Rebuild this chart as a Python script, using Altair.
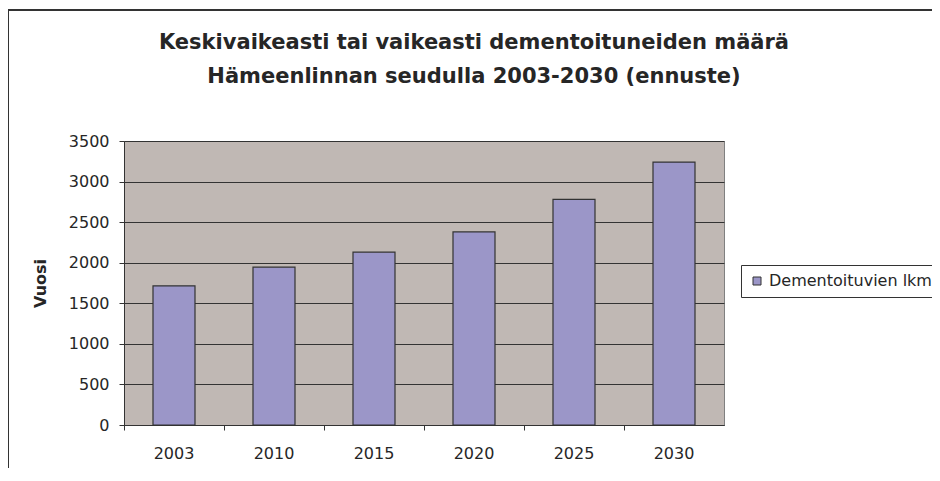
import altair as alt
import pandas as pd

years = ["2003", "2010", "2015", "2020", "2025", "2030"]
values = [1715, 1945, 2130, 2380, 2780, 3240]
series = ["Dementoituvien lkm"] * len(years)

df = pd.DataFrame({"Vuosi": years, "Arvo": values, "Sarja": series})

TXT = "#262626"
FONT = "DejaVu Sans"

bars = alt.Chart(df).mark_bar(size=42, stroke="#333333", strokeWidth=1.2).encode(
    x=alt.X("Vuosi:N", sort=years, title=None,
            scale=alt.Scale(paddingInner=0, paddingOuter=0),
            axis=alt.Axis(labelAngle=0, bandPosition=0, grid=False, tickSize=5,
                          tickColor="#333333", domainColor="#333333",
                          labelPadding=15, labelFontSize=16, labelColor=TXT,
                          labelFont=FONT, labelBound=False, labelOverlap=False)),
    y=alt.Y("Arvo:Q", title="Vuosi",
            scale=alt.Scale(domain=[0, 3500], nice=False),
            axis=alt.Axis(values=[0, 500, 1000, 1500, 2000, 2500, 3000, 3500],
                          format="d",
                          grid=True, gridColor="#333333", gridWidth=1,
                          tickSize=5, tickColor="#333333", domainColor="#333333",
                          labelPadding=10, labelFontSize=16, labelColor=TXT,
                          labelFont=FONT, titleFont=FONT, titleFontSize=16,
                          titleFontWeight="bold", titleColor=TXT,
                          titleAngle=-90, titleX=-84, titleY=142,
                          titleAlign="center", titleBaseline="middle")),
    fill=alt.Fill("Sarja:N", scale=alt.Scale(range=["#9B96C8"]),
                  legend=alt.Legend(title=None, orient="none", legendX=617, legendY=124,
                                    strokeColor="#333333", padding=8,
                                    symbolType="square", symbolSize=64,
                                    symbolStrokeColor="#333333", symbolStrokeWidth=1,
                                    labelFontSize=16, labelFont=FONT, labelColor=TXT,
                                    labelLimit=400)),
)

frame = alt.Chart(df).mark_rect(fill=None, stroke="#333333", strokeWidth=2, clip=False).encode(
    x=alt.value(-116), x2=alt.value(900), y=alt.value(-131), y2=alt.value(400)
)

chart = alt.layer(frame, bars).properties(
    width=600, height=284,
    autosize=alt.AutoSizeParams(type="none"),
    padding={"left": 116, "top": 133, "right": 208, "bottom": 43},
    title=alt.Title(
        ["Keskivaikeasti tai vaikeasti dementoituneiden määrä",
         "Hämeenlinnan seudulla 2003-2030 (ennuste)"],
        fontSize=21, font=FONT, fontWeight="bold", color=TXT,
        anchor="middle", dx=50, dy=78, offset=0, lineHeight=34,
    ),
).configure(background="white").configure_view(
    fill="#C0B8B4", stroke="#808080", strokeWidth=1
)

chart.save("out.html", embed_options={"renderer": "svg", "actions": False})
